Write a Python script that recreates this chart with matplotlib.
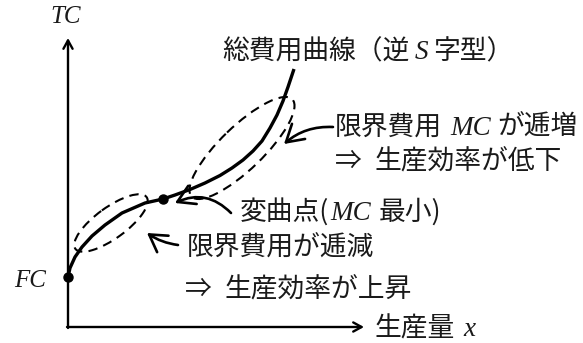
import matplotlib
matplotlib.use("Agg")
import matplotlib.pyplot as plt
from matplotlib.patches import Ellipse, FancyArrowPatch

plt.rcParams['font.family'] = ['Noto Sans CJK JP', 'DejaVu Sans']

# ---- data (in pixel-like diagram units) ----
curve_x = [68, 70, 75, 82, 92, 105, 122, 145, 163, 175, 190, 205, 220, 232, 243, 253, 262,
           270, 277, 283, 288, 292, 294]
curve_y = [277, 268, 257, 247, 236, 225, 213, 203, 199, 195, 189.5, 183, 175.5, 168, 160, 151, 141,
           128, 115, 101, 87, 75, 69]

fc_point = (68, 277)
inflection_point = (163, 199)

# labels: (x_left, baseline_y, [(text, style, gap_after_px), ...])
labels = [
    (222, 59, [("総費用曲線（逆", 'cjk', 5), ("S", 'it', 5), ("字型）", 'cjk', 0)]),
    (335, 135, [("限界費用", 'cjk', 8), ("MC", 'it', 7), ("が逓増", 'cjk', 0)]),
    (335, 169, [("⇒", 'cjk', 13), ("生産効率が低下", 'cjk', 0)]),
    (240, 220, [("変曲点(", 'cjk', 1), ("MC", 'it', 8), ("最小)", 'cjk', 0)]),
    (187, 256, [("限界費用が逓減", 'cjk', 0)]),
    (185, 297, [("⇒", 'cjk', 13), ("生産効率が上昇", 'cjk', 0)]),
    (375, 336, [("生産量", 'cjk', 8), ("x", 'it', 0)]),
]
tc_label = (66, 23, "TC")
fc_label = (46, 287, "FC")

W, H = 583, 343
fig = plt.figure(figsize=(W / 100, H / 100), dpi=100)
ax = fig.add_axes([0, 0, 1, 1])
ax.set_xlim(0, W)
ax.set_ylim(H, 0)
ax.axis('off')

txt_color = '#1a1a1a'
styles = {
    'cjk': dict(family=['Noto Sans CJK JP', 'DejaVu Sans'], fontsize=19.3),
    'it': dict(family=['Liberation Serif', 'DejaVu Serif'], style='italic', fontsize=19.5),
}

# axes with arrows
for start, end in [((68, 328), (68, 38)), ((67, 327), (364, 327))]:
    ax.annotate('', xy=end, xytext=start,
                arrowprops=dict(arrowstyle='->,head_length=0.6,head_width=0.33', lw=1.7,
                                color='black', shrinkA=0, shrinkB=0))

# total cost curve
ax.plot(curve_x, curve_y, color='black', lw=2.4, solid_capstyle='butt', zorder=3)

# points
ax.plot(*fc_point, 'o', color='black', ms=6.5, zorder=4)
ax.plot(*inflection_point, 'o', color='black', ms=6.5, zorder=4)

# dashed ellipses
for (cx, cy), w, h, ang in [((111, 223), 88, 31, -36), ((242, 148), 140, 43, -44)]:
    e = Ellipse((cx, cy), w, h, angle=ang, fill=False, ec='black', lw=1.5,
                ls=(0, (4.5, 3)))
    ax.add_patch(e)

# annotation arrows
for start, end, rad in [((333, 127), (284, 144), 0.2),
                        ((231, 213), (175, 203), 0.35),
                        ((178, 245), (147, 233), -0.12)]:
    a = FancyArrowPatch(start, end, connectionstyle=f'arc3,rad={rad}',
                        arrowstyle='->,head_length=7.5,head_width=4.5', lw=1.9,
                        color='black', shrinkA=0, shrinkB=0, mutation_scale=1.6)
    ax.add_patch(a)

fig.canvas.draw()
renderer = fig.canvas.get_renderer()
inv = ax.transData.inverted()

for x0, yb, segs in labels:
    x = x0
    for text, st, gap in segs:
        t = ax.text(x, yb, text, ha='left', va='baseline', color=txt_color, **styles[st])
        bb = t.get_window_extent(renderer)
        x_end = inv.transform((bb.x1, bb.y0))[0]
        x = x_end + gap

ax.text(tc_label[0], tc_label[1], tc_label[2], ha='center', va='baseline', color=txt_color,
        **dict(styles['it'], fontsize=18))
ax.text(fc_label[0], fc_label[1], fc_label[2], ha='right', va='baseline', color=txt_color,
        **dict(styles['it'], fontsize=18))

fig.savefig('out.png', dpi=100)
